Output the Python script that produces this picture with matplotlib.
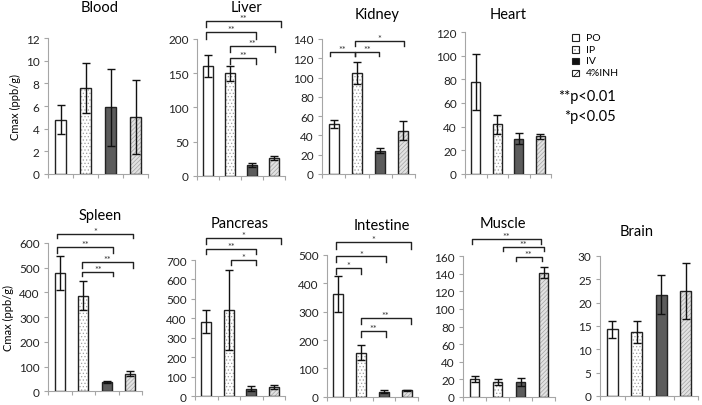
import numpy as np
import matplotlib.pyplot as plt
from matplotlib.patches import Rectangle

plt.rcParams['font.family'] = ['Lato', 'DejaVu Sans']
plt.rcParams['hatch.linewidth'] = 0.5

# data: Cmax (ppb/g), mean and error for PO, IP, IV, 4%INH
routes = ["PO", "IP", "IV", "4%INH"]

blood_mean = [4.8, 7.6, 5.9, 5.05]
blood_err = [1.25, 2.2, 3.4, 3.25]
liver_mean = [161, 150, 15, 26]
liver_err = [16, 11, 3, 3.5]
kidney_mean = [52, 105, 24, 45]
kidney_err = [4.5, 11.5, 2.5, 10]
heart_mean = [78, 42, 30, 32]
heart_err = [23.5, 8, 4.5, 2]
spleen_mean = [478, 387, 37, 72]
spleen_err = [70, 60, 3, 11]
pancreas_mean = [382, 443, 38, 48]
pancreas_err = [59, 205, 13, 10]
intestine_mean = [362, 155, 18, 22]
intestine_err = [63, 27, 4, 2]
muscle_mean = [20.5, 17, 17, 141]
muscle_err = [3.5, 3, 5, 6]
brain_mean = [14.3, 13.8, 21.7, 22.6]
brain_err = [1.8, 2.35, 4.2, 6]

# significance brackets: (x from, x to, height, drop, label)
liver_sig = [(-0.1, 3.32, 227, 10, "**"), (-0.1, 2.18, 210, 10, "**"),
             (1.02, 3.04, 190, 9, "**"), (1.02, 2.18, 172, 9, "**")]
kidney_sig = [(-0.16, 0.92, 127, 5, "**"), (0.92, 1.97, 127, 5, "**"),
              (0.92, 3.04, 137.5, 5, "*")]
spleen_sig = [(-0.11, 3.11, 636, 16, "*"), (-0.11, 2.28, 585, 27, "**"),
              (0.96, 3.11, 522, 25, "**"), (0.96, 2.28, 484, 16, "**")]
pancreas_sig = [(-0.01, 3.32, 811, 29, "*"), (-0.01, 2.21, 756, 25, "**"),
                (1.09, 2.21, 702, 28, "*")]
intestine_sig = [(-0.09, 3.18, 545, 24, "*"), (-0.09, 2.09, 495, 21, "*"),
                 (-0.09, 0.98, 453, 20, "*"), (0.98, 3.18, 278, 21, "**"),
                 (0.98, 2.09, 233, 21, "**")]
muscle_sig = [(-0.09, 2.89, 179, 5, "**"), (1.25, 3.02, 170, 4.5, "**"),
              (1.8, 2.92, 159, 5, "**")]

W, H = 702, 406
fig = plt.figure(figsize=(W / 100, H / 100), dpi=100)

fills = ['white', 'white', '#5c5c5c', '#e2e2e2']
hatches = [None, '.....', None, '////////']
hatch_cols = [None, '#a0a0a0', None, '#a4a4a4']


def px_axes(left, right, top, bottom):
    return fig.add_axes([left / W, 1 - bottom / H, (right - left) / W, (bottom - top) / H])


def panel(box, title, title_xy, mean, err, ymax, step, sig=()):
    ax = px_axes(*box)
    x = np.arange(len(routes))
    for i in range(len(routes)):
        if hatches[i]:
            ax.bar(x[i], mean[i], 0.43, color=fills[i], edgecolor=hatch_cols[i],
                   hatch=hatches[i], linewidth=0, zorder=2)
            ax.bar(x[i], mean[i], 0.43, color='none', edgecolor='#222222', linewidth=1, zorder=3)
        else:
            ax.bar(x[i], mean[i], 0.43, color=fills[i], edgecolor='#222222', linewidth=1, zorder=3)
    ax.errorbar(x, mean, yerr=err, fmt='none', ecolor='#111111', elinewidth=1,
                capsize=3, capthick=1, zorder=4)
    ax.set_xlim(-0.5, 3.5)
    ax.set_ylim(0, ymax)
    ax.set_yticks(np.arange(0, ymax + step / 2, step))
    ax.set_xticks([-0.5, 0.5, 1.5, 2.5, 3.5])
    ax.set_xticklabels([])
    for s in ['top', 'right']:
        ax.spines[s].set_visible(False)
    for s in ['left', 'bottom']:
        ax.spines[s].set_color('#a6a6a6')
    ax.tick_params(axis='both', direction='out', length=3, color='#a6a6a6',
                   labelsize=8.5, labelcolor='#222222', pad=3)
    for x1, x2, y, d, lab in sig:
        ax.plot([x1, x1, x2, x2], [y - d, y, y, y - d], color='#222222', lw=1,
                clip_on=False, zorder=5)
        ax.annotate(lab, ((x1 + x2) / 2, y), xytext=(0, -1.5), textcoords='offset points',
                    ha='center', va='bottom', fontsize=6.5, color='#333333',
                    annotation_clip=False)
    fig.text(title_xy[0] / W, 1 - title_xy[1] / H, title, ha='center', va='center', fontsize=10.5)
    return ax


panel((48, 148, 39, 175), "Blood", (100, 8), blood_mean, blood_err, 12, 2)
panel((197, 285, 40, 176.7), "Liver", (247, 8), liver_mean, liver_err, 200, 50, liver_sig)
panel((322, 415, 40, 175), "Kidney", (377, 15), kidney_mean, kidney_err, 140, 20, kidney_sig)
panel((465, 551, 33, 175), "Heart", (508, 15), heart_mean, heart_err, 120, 20)
panel((48, 142, 244, 392.3), "Spleen", (100, 216), spleen_mean, spleen_err, 600, 100, spleen_sig)
panel((195, 285, 261, 397.3), "Pancreas", (240, 224), pancreas_mean, pancreas_err, 700, 100, pancreas_sig)
panel((327, 418, 256, 397.7), "Intestine", (382, 226), intestine_mean, intestine_err, 500, 100, intestine_sig)
panel((463, 555, 257, 398), "Muscle", (503, 224), muscle_mean, muscle_err, 160, 20, muscle_sig)
panel((600, 698, 257, 397), "Brain", (637, 232), brain_mean, brain_err, 30, 5)

fig.text(15 / W, 1 - 107 / H, "Cmax (ppb/g)", rotation=90, ha='center', va='center', fontsize=8)
fig.text(8 / W, 1 - 318 / H, "Cmax (ppb/g)", rotation=90, ha='center', va='center', fontsize=8)

# legend drawn by hand
leg_fill = ['white', 'white', '#111111', 'white']
leg_hatch = [None, '....', None, '////']
leg_hcol = [None, '#888888', None, '#111111']
sq = 6.7
for i, name in enumerate(routes):
    yc = [38.7, 50.7, 62, 74][i]
    xy = (572 / W, 1 - (yc + sq / 2) / H)
    wh = (sq / W, sq / H)
    if leg_hatch[i]:
        fig.add_artist(Rectangle(xy, *wh, transform=fig.transFigure, facecolor=leg_fill[i],
                                 edgecolor=leg_hcol[i], hatch=leg_hatch[i], linewidth=0))
        fig.add_artist(Rectangle(xy, *wh, transform=fig.transFigure, facecolor='none',
                                 edgecolor='#222222', linewidth=0.8))
    else:
        fig.add_artist(Rectangle(xy, *wh, transform=fig.transFigure, facecolor=leg_fill[i],
                                 edgecolor='#222222', linewidth=0.8))
    fig.text(586 / W, 1 - yc / H, name, ha='left', va='center', fontsize=7.5)

fig.text(616 / W, 1 - 97.3 / H, "**p<0.01", ha='right', va='center', fontsize=10.5)
fig.text(616 / W, 1 - 116.7 / H, "*p<0.05", ha='right', va='center', fontsize=10.5)

fig.savefig("out.png", dpi=100)
